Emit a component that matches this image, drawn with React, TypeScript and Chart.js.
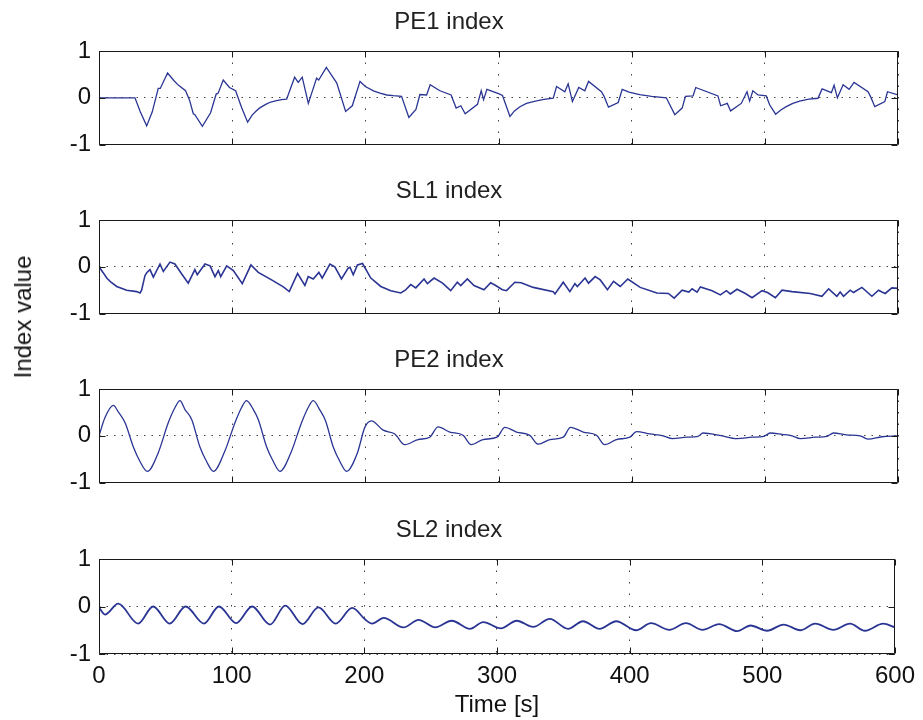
import React, { useEffect, useRef } from "react";
import { Chart, registerables } from "chart.js";

Chart.register(...registerables);

// ---------- data ----------
const xTicks = [0, 100, 200, 300, 400, 500, 600];
const yTicks = [-1, 0, 1];
const panelTitles = ["PE1 index", "SL1 index", "PE2 index", "SL2 index"];
const xAxisLabel = "Time [s]";
const yAxisLabel = "Index value";

const pe1Time = [0, 27, 31, 35.8, 40, 44.5, 46, 51.5, 56.5, 60, 65, 68, 70.8, 72, 77.6, 83.8, 88, 89.5, 93.3, 98, 102.6, 107, 111.6, 115, 118.4, 121, 125.9, 129, 133.4, 137, 140.9, 146.9, 149.6, 152.6, 157.2, 163.4, 165, 170.7, 178.5, 185.2, 190.2, 196, 200, 206.1, 211, 216.1, 221, 227.2, 232.7, 238, 241, 246, 248.7, 256, 264.4, 268.2, 271.7, 275, 284.2, 287, 288.8, 291.3, 300, 303, 308.6, 312, 316.1, 321, 326.1, 333, 341.1, 343.6, 349.8, 352.3, 355.5, 360.3, 364.8, 367.6, 377.3, 379.3, 382.6, 389.9, 392.9, 398, 406, 415, 426, 432.4, 437.9, 440.4, 446.1, 448.1, 464.8, 466.8, 471.8, 474.3, 482.3, 486.6, 488.6, 491, 494.9, 501.1, 503.6, 508.1, 512, 516.1, 521, 526.1, 533, 539.9, 543, 550, 552, 554.5, 558.8, 563.3, 567, 577.5, 579.3, 582.6, 590.1, 592.1, 600];
const pe1Value = [0, 0, -0.3, -0.6, -0.3, 0.2, 0.2, 0.53, 0.36, 0.26, 0.15, -0.05, -0.34, -0.36, -0.61, -0.32, 0.08, 0.1, 0.38, 0.22, 0.15, -0.2, -0.52, -0.37, -0.27, -0.21, -0.13, -0.09, -0.06, -0.04, -0.03, 0.44, 0.33, 0.44, -0.12, 0.42, 0.38, 0.65, 0.32, -0.29, -0.17, 0.35, 0.24, 0.15, 0.1, 0.06, 0.045, 0.03, -0.42, -0.25, 0.07, 0.06, 0.28, 0.15, 0.06, -0.22, -0.17, -0.34, -0.14, 0.15, -0.04, 0.18, 0.09, 0.05, -0.4, -0.28, -0.19, -0.12, -0.08, -0.04, -0.01, 0.24, 0.13, 0.3, -0.08, 0.22, 0.15, 0.35, 0.13, 0.03, -0.2, -0.1, 0.18, 0.12, 0.07, 0.03, 0, -0.36, -0.22, 0.03, 0.04, 0.22, 0.04, -0.17, -0.12, -0.28, -0.12, 0.13, -0.07, 0.15, 0.06, 0.04, -0.15, -0.35, -0.26, -0.19, -0.12, -0.07, -0.03, -0.01, 0.19, 0.11, 0.27, 0, 0.28, 0.18, 0.33, 0.13, 0.03, -0.19, -0.08, 0.13, 0.06];

const sl1Time = [0, 3, 5.8, 9, 13.3, 20.8, 28.3, 30.8, 32, 34.5, 36, 38.3, 40.8, 45.8, 48.3, 53.3, 57, 62, 67, 72, 73.8, 79.6, 83.4, 87.1, 89.6, 91.4, 95.9, 100.9, 107.6, 114.1, 119.6, 129.6, 138.4, 142.9, 149.1, 154.6, 157.1, 160.9, 165.1, 167.6, 173.4, 177.1, 182.1, 187.1, 188.5, 190.9, 194.1, 197.9, 204.1, 211.6, 219.1, 226.6, 230, 234.1, 237.9, 244.1, 246.6, 251.6, 258, 264.1, 269.1, 271.6, 276.6, 281.6, 289.1, 294.1, 297.9, 302.9, 306, 312.3, 317, 326.1, 341.1, 342.4, 348.6, 353.6, 357.4, 359.2, 365, 367.6, 372.6, 376.4, 381.8, 386.4, 391.4, 397.1, 406.4, 418.9, 427.6, 431.9, 437.9, 442.9, 445.4, 449.1, 451.6, 460.4, 466.6, 471.1, 474.1, 479.1, 485.4, 490.4, 497.9, 502, 507.9, 512.9, 520.4, 534.1, 542.9, 547.9, 554.1, 556.6, 559.1, 564.1, 566.6, 572.9, 580.4, 585.4, 587.9, 590.4, 595.4, 600];
const sl1Value = [0, -0.12, -0.24, -0.33, -0.42, -0.5, -0.53, -0.56, -0.5, -0.19, -0.12, -0.06, -0.22, 0.06, -0.1, 0.1, 0.06, -0.15, -0.35, -0.06, -0.17, 0.06, 0.02, -0.21, -0.08, -0.21, 0.02, -0.08, -0.36, 0.04, -0.12, -0.28, -0.43, -0.53, -0.14, -0.4, -0.21, -0.26, -0.12, -0.24, 0.06, 0, -0.26, -0.03, -0.01, -0.17, 0.04, 0.07, -0.24, -0.42, -0.51, -0.56, -0.5, -0.38, -0.45, -0.26, -0.36, -0.24, -0.35, -0.51, -0.33, -0.4, -0.26, -0.4, -0.49, -0.34, -0.4, -0.49, -0.51, -0.33, -0.34, -0.44, -0.53, -0.58, -0.33, -0.53, -0.36, -0.42, -0.24, -0.35, -0.21, -0.28, -0.49, -0.31, -0.42, -0.26, -0.44, -0.56, -0.57, -0.67, -0.5, -0.54, -0.47, -0.54, -0.43, -0.51, -0.6, -0.51, -0.58, -0.48, -0.57, -0.66, -0.51, -0.55, -0.66, -0.5, -0.53, -0.57, -0.63, -0.47, -0.63, -0.54, -0.63, -0.5, -0.55, -0.44, -0.63, -0.5, -0.54, -0.57, -0.45, -0.46];

const pe2Time = [0, 4.5, 10.8, 14.5, 19.6, 25.8, 30.8, 36.3, 44.5, 52, 57, 60.8, 64.6, 69.6, 75.8, 80.8, 85.9, 94.6, 102.1, 107, 110.8, 115.9, 119.6, 125.9, 130.9, 135.9, 144.1, 152.1, 157, 160.9, 165.9, 170.1, 175.9, 180.9, 185.9, 194.1, 199.6, 204.6, 213.4, 222.1, 229.6, 239.6, 248.4, 254.6, 263.4, 273.4, 279.6, 288.4, 298.9, 304.8, 313.5, 323.5, 329.8, 338.6, 348.6, 354.1, 363.6, 373.6, 379.8, 388.6, 398.6, 403.6, 413.6, 423.6, 430.6, 441.1, 449.9, 453.6, 466.1, 479.1, 490.4, 499.1, 504.1, 513, 520.4, 526.6, 537.9, 546.6, 551.6, 561, 571.6, 577.4, 587.9, 600];
const pe2Value = [0, 0.39, 0.65, 0.51, 0.28, -0.24, -0.55, -0.76, -0.36, 0.28, 0.6, 0.75, 0.56, 0.35, -0.24, -0.55, -0.76, -0.32, 0.28, 0.6, 0.75, 0.56, 0.35, -0.24, -0.55, -0.76, -0.36, 0.28, 0.6, 0.75, 0.55, 0.32, -0.24, -0.55, -0.76, -0.36, 0.18, 0.32, 0.12, 0.04, -0.19, -0.08, -0.03, 0.19, 0.08, 0.01, -0.19, -0.08, -0.03, 0.18, 0.08, 0.01, -0.18, -0.08, -0.03, 0.18, 0.08, 0.01, -0.19, -0.08, -0.03, 0.09, 0.04, 0, -0.06, -0.03, -0.01, 0.06, 0.01, -0.06, -0.03, -0.01, 0.06, 0.03, 0, -0.06, -0.03, -0.01, 0.06, 0.02, 0, -0.07, -0.02, 0];

const sl2Time = [0, 4.5, 14.5, 29.5, 40.8, 53.3, 65.3, 79.1, 90.4, 103.4, 115.4, 128.9, 140.4, 153.4, 165.4, 178.4, 190.9, 200.9, 205.9, 214.6, 229.6, 240.9, 253.4, 265.9, 279.6, 289.6, 303, 314.8, 327.3, 339.8, 353.6, 364.8, 377.3, 389.9, 404.9, 416.1, 429.9, 442.4, 454.9, 467.4, 481.1, 491.1, 503.6, 516.1, 528.6, 539.9, 553.6, 566.1, 577.4, 591.1, 600];
const sl2Value = [-0.02, -0.17, 0.06, -0.36, 0, -0.36, 0, -0.36, 0, -0.35, 0, -0.38, 0.02, -0.37, -0.02, -0.36, -0.03, -0.28, -0.36, -0.24, -0.44, -0.28, -0.44, -0.3, -0.47, -0.33, -0.46, -0.3, -0.43, -0.26, -0.47, -0.31, -0.47, -0.31, -0.5, -0.35, -0.49, -0.35, -0.49, -0.37, -0.52, -0.4, -0.51, -0.38, -0.5, -0.36, -0.49, -0.36, -0.51, -0.36, -0.44];

// ---------- layout / style ----------
const FONT = "'Liberation Sans', Arial, Helvetica, sans-serif";
const LINE_COLOR = "#2a3593";
const PANEL_TOPS = [51, 220, 389, 559];

const boxPlugin = {
  id: "matlabBox",
  afterDraw(chart: any) {
    const { ctx, chartArea } = chart;
    const { left, right, top, bottom } = chartArea;
    const xs = chart.scales.x;
    const ys = chart.scales.y;
    ctx.save();
    ctx.strokeStyle = "#1a1a1a";
    ctx.lineWidth = 1;
    ctx.beginPath();
    const L = Math.round(left) + 0.5;
    const R = Math.round(right) - 0.5;
    const T = Math.round(top) + 0.5;
    const B = Math.round(bottom) - 0.5;
    ctx.rect(L, T, R - L, B - T);
    const tl = 6;
    xTicks.forEach((v) => {
      const px = Math.round(xs.getPixelForValue(v)) + 0.5;
      ctx.moveTo(px, B);
      ctx.lineTo(px, B - tl);
      ctx.moveTo(px, T);
      ctx.lineTo(px, T + tl);
    });
    yTicks.forEach((v) => {
      const py = Math.round(ys.getPixelForValue(v)) + 0.5;
      ctx.moveTo(L, py);
      ctx.lineTo(L + tl, py);
      ctx.moveTo(R, py);
      ctx.lineTo(R - tl, py);
    });
    ctx.stroke();
    ctx.restore();
  },
};

type PanelProps = {
  title: string;
  times: number[];
  values: number[];
  top: number;
  isBottom: boolean;
  lineWidth: number;
  smooth: boolean;
};

function Panel({ title, times, values, top, isBottom, lineWidth, smooth }: PanelProps) {
  const ref = useRef<HTMLCanvasElement | null>(null);
  const height = isBottom ? 720 - (top - 45) : 161;
  useEffect(() => {
    if (!ref.current) return;
    const data = times.map((t, i) => ({ x: t, y: values[i] }));
    const font = { family: FONT, size: 24, weight: "normal" as const };
    const chart = new Chart(ref.current, {
      type: "line",
      data: {
        datasets: [
          {
            data,
            borderColor: LINE_COLOR,
            borderWidth: lineWidth,
            pointRadius: 0,
            fill: false,
            tension: 0,
            cubicInterpolationMode: smooth ? "monotone" : "default",
          },
        ],
      },
      options: {
        animation: false,
        responsive: false,
        maintainAspectRatio: false,
        layout: { padding: { left: 0, right: 25, top: 0, bottom: 0 } },
        plugins: {
          legend: { display: false },
          tooltip: { enabled: false },
          title: {
            display: true,
            text: title,
            color: "#222",
            font,
            padding: { top: 2, bottom: 14.2 },
          },
        },
        scales: {
          x: {
            type: "linear",
            min: 0,
            max: 600,
            afterBuildTicks: (s: any) => {
              s.ticks = xTicks.map((v) => ({ value: v }));
            },
            afterFit: (s: any) => {
              s.height = isBottom ? 66 : 20;
            },
            ticks: {
              display: isBottom,
              color: "#111",
              font,
              padding: 8,
              maxRotation: 0,
              autoSkip: false,
              callback: (v: any) => String(v),
            },
            grid: { color: "#444", lineWidth: 1, drawTicks: false },
            border: { display: false, dash: [1.5, 10] },
            title: {
              display: isBottom,
              text: xAxisLabel,
              color: "#111",
              font,
              padding: { top: 0, bottom: 0 },
            },
          },
          y: {
            min: -1,
            max: 1,
            afterBuildTicks: (s: any) => {
              s.ticks = yTicks.map((v) => ({ value: v }));
            },
            afterFit: (s: any) => {
              s.width = 99;
            },
            ticks: {
              color: "#111",
              font,
              padding: 8,
              callback: (v: any) => String(v),
            },
            grid: { color: "#444", lineWidth: 1, drawTicks: false },
            border: { display: false, dash: [1.5, 6] },
          },
        },
      } as any,
      plugins: [boxPlugin],
    });
    return () => chart.destroy();
  }, [title, times, values, isBottom, lineWidth, smooth]);
  return (
    <canvas
      ref={ref}
      width={923}
      height={height}
      style={{ position: "absolute", left: 0, top: top - 45, width: 923, height }}
    />
  );
}

export default function App() {
  const series = [
    { times: pe1Time, values: pe1Value, lw: 1.3, smooth: false },
    { times: sl1Time, values: sl1Value, lw: 1.6, smooth: false },
    { times: pe2Time, values: pe2Value, lw: 1.3, smooth: true },
    { times: sl2Time, values: sl2Value, lw: 1.8, smooth: true },
  ];
  return (
    <div
      style={{
        position: "fixed",
        left: 0,
        top: 0,
        width: 923,
        height: 720,
        background: "#fff",
        overflow: "hidden",
      }}
    >
      {series.map((s, i) => (
        <Panel
          key={i}
          title={panelTitles[i]}
          times={s.times}
          values={s.values}
          top={PANEL_TOPS[i]}
          isBottom={i === series.length - 1}
          lineWidth={s.lw}
          smooth={s.smooth}
        />
      ))}
      <div
        style={{
          position: "absolute",
          left: 23,
          top: 317,
          transform: "translate(-50%, -50%) rotate(-90deg)",
          fontFamily: FONT,
          fontSize: 24,
          color: "#111",
          whiteSpace: "nowrap",
          lineHeight: 1,
        }}
      >
        {yAxisLabel}
      </div>
    </div>
  );
}
